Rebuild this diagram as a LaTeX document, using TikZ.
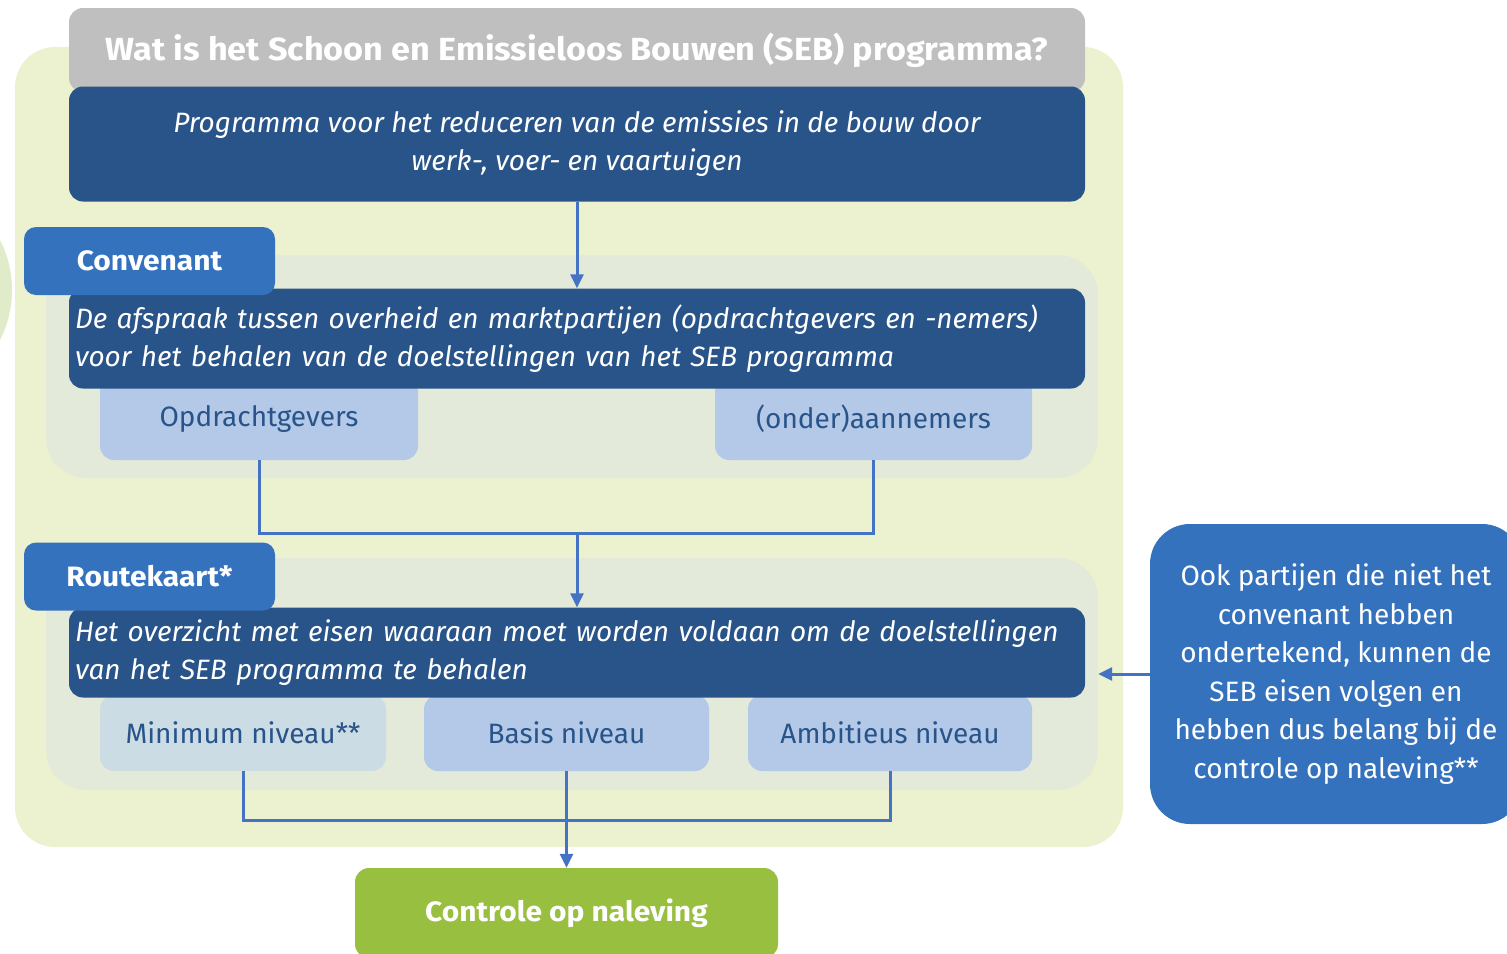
\documentclass[tikz,border=0pt]{standalone}
\usepackage{fontspec}
\setmainfont[BoldFeatures={FakeStretch=1.07}]{Fira Sans}
\usepackage{tikz}
\usetikzlibrary{arrows.meta}
\definecolor{outergreen}{HTML}{ECF2CF}
\definecolor{panelgrey}{HTML}{E3EAD9}
\definecolor{titlegrey}{HTML}{BFBFBF}
\definecolor{darkblue}{HTML}{28548A}
\definecolor{tabblue}{HTML}{3572BE}
\definecolor{lightblue}{HTML}{B4C9E8}
\definecolor{palebox}{HTML}{CBDCE5}
\definecolor{linecol}{HTML}{4472C4}
\definecolor{controlgreen}{HTML}{98BF3F}
\definecolor{circlegreen}{HTML}{DFEBC9}
\tikzstyle{arrow} = [line width=3pt, draw=linecol, -{Triangle[length=14pt,width=13pt]}]
\tikzstyle{line} = [line width=3pt, draw=linecol]
\tikzstyle{panel} = [rectangle, rounded corners=40pt, fill=panelgrey, inner sep=0pt]
\tikzstyle{darkbox} = [rectangle, rounded corners=14pt, fill=darkblue, text=white, minimum width=1016pt, inner xsep=6pt, font=\fontsize{28}{38}\selectfont\itshape]
\tikzstyle{tab} = [rectangle, rounded corners=12pt, fill=tabblue, text=white, minimum width=251pt, minimum height=68pt, font=\fontsize{28}{34}\selectfont\bfseries]
\tikzstyle{lightbox} = [rectangle, rounded corners=14pt, fill=lightblue, text=darkblue, font=\fontsize{28}{34}\selectfont]

\begin{document}
\begin{tikzpicture}[x=1pt, y=-1pt]
        \useasboundingbox (0,0) rectangle (1507,953);
        % backgrounds
        \fill[circlegreen] (-98,290) circle (110);
        \node (outer) [rectangle, rounded corners=40pt, fill=outergreen, minimum width=1108pt, minimum height=800pt] at (569,447) {};
        \node (convpanel) [panel, minimum width=1052pt, minimum height=223pt] at (572,366.5) {};
        \node (routepanel) [panel, minimum width=1052pt, minimum height=232pt] at (572,674) {};
        % top
        \node (title) [rectangle, rounded corners=14pt, fill=titlegrey, text=white, minimum width=1016pt, minimum height=84pt, font=\fontsize{32}{38}\selectfont\bfseries] at (577,50) {Wat is het Schoon en Emissieloos Bouwen (SEB) programma?};
        \node (prog) [darkbox, minimum height=115pt, align=center] at (577,144) {Programma voor het reduceren van de emissies in de bouw door\\werk-, voer- en vaartuigen};
        % convenant
        \node (opdr) [lightbox, minimum width=318pt, minimum height=82pt] at (259,419) {Opdrachtgevers};
        \node (aann) [lightbox, minimum width=317pt, minimum height=82pt] at (873.5,419) {(onder)aannemers};
        \node (convbox) [darkbox, minimum height=100pt, text width=1004pt, align=left] at (577,338.5) {De afspraak tussen overheid en marktpartijen (opdrachtgevers en -nemers)\\voor het behalen van de doelstellingen van het SEB programma};
        \node (convtab) [tab] at (149.5,261) {Convenant};
        % routekaart
        \node (minniv) [lightbox, fill=palebox, minimum width=286pt, minimum height=76pt] at (243,733) {Minimum niveau**};
        \node (basisniv) [lightbox, minimum width=285pt, minimum height=76pt] at (566.5,733) {Basis niveau};
        \node (ambniv) [lightbox, minimum width=284pt, minimum height=76pt] at (890,733) {Ambitieus niveau};
        \node (routebox) [darkbox, minimum height=90pt, text width=1004pt, align=left] at (577,652.5) {Het overzicht met eisen waaraan moet worden voldaan om de doelstellingen\\van het SEB programma te behalen};
        \node (routetab) [tab] at (149.5,576.5) {Routekaart*};
        % bottom and side
        \node (controle) [rectangle, rounded corners=14pt, fill=controlgreen, text=white, minimum width=423pt, minimum height=90pt, font=\fontsize{28}{34}\selectfont\bfseries] at (566.5,913) {Controle op naleving};
        \node (ook) [rectangle, rounded corners=40pt, fill=tabblue, text=white, minimum width=372pt, minimum height=300pt, align=center, font=\fontsize{28}{38.5}\selectfont] at (1336,674) {Ook partijen die niet het\\convenant hebben\\ondertekend, kunnen de\\SEB eisen volgen en\\hebben dus belang bij de\\controle op naleving**};
        \coordinate (convmid) at (577,533);
        \draw [arrow] (prog) -- (convbox);
        \draw [line] (opdr.south) |- (convmid) -| (aann.south);
        \draw [arrow] (convmid) -- (routebox.north);
        \draw [line] (minniv.south) -- ++(0,49) -| (ambniv.south);
        \draw [arrow] (basisniv.south) -- (controle.north);
        \draw [arrow] (ook.west) -- (routepanel.east);
    \end{tikzpicture}
\end{document}
